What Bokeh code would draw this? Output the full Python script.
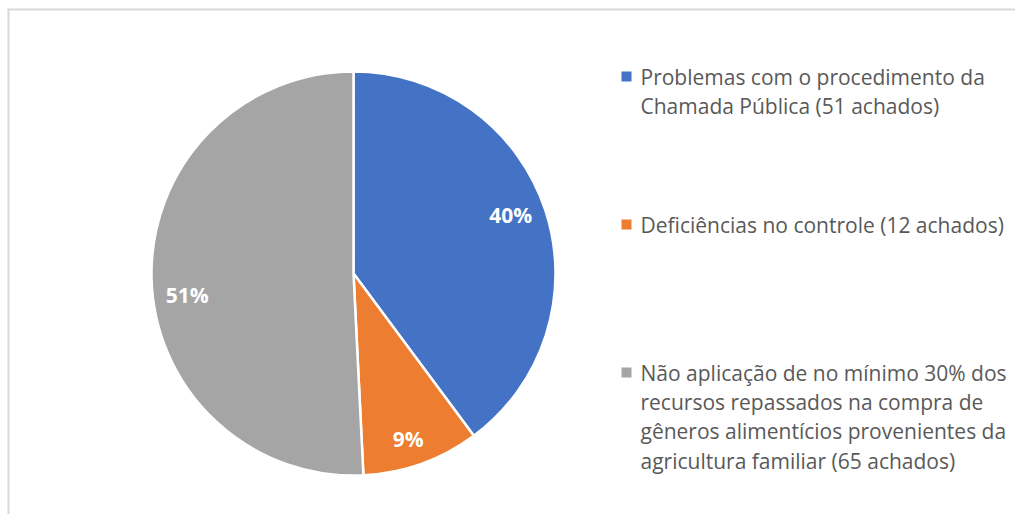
import math
from bokeh.plotting import figure
from bokeh.models import Range1d, ColumnDataSource
from bokeh.core.properties import value
from bokeh.embed import file_html
from bokeh.resources import INLINE

# ---- data ----
categories = [
    ["Problemas com o procedimento da", "Chamada Pública (51 achados)"],
    ["Deficiências no controle (12 achados)"],
    ["Não aplicação de no mínimo 30% dos", "recursos repassados na compra de",
     "gêneros alimentícios provenientes da", "agricultura familiar (65 achados)"],
]
counts = [51, 12, 65]
colors = ["#4472C4", "#ED7D31", "#A5A5A5"]

W, H = 1015, 514
p = figure(width=W, height=H, output_backend="svg", toolbar_location=None,
           x_range=Range1d(0, W), y_range=Range1d(0, H), min_border=0)
p.axis.visible = False
p.grid.visible = False
p.outline_line_color = None
p.background_fill_color = "white"
p.border_fill_color = "white"

# partial chart-area border (top and left visible)
p.line([8, 8], [0, 506], line_color="#d9d9d9", line_width=2)
p.line([7, W], [505, 505], line_color="#d9d9d9", line_width=2)

cx, cy, R = 353, 241, 202
# label placement (layout only): radius fraction and angular nudge in degrees
label_r = [0.83, 0.865, 0.83]
label_nudge = [2.0, -1.4, 5.8]
total = sum(counts)
starts, ends, lx, ly, labels = [], [], [], [], []
a = math.pi / 2
for c, rf, nd in zip(counts, label_r, label_nudge):
    sweep = 2 * math.pi * c / total
    starts.append(a)
    ends.append(a - sweep)
    mid = a - sweep / 2 + math.radians(nd)
    lx.append(cx + rf * R * math.cos(mid))
    ly.append(cy + rf * R * math.sin(mid))
    labels.append(f"{round(100 * c / total)}%")
    a -= sweep

src = ColumnDataSource(dict(s=starts, e=ends, color=colors))
p.wedge(x=cx, y=cy, radius=R, start_angle="s", end_angle="e", direction="clock",
        fill_color="color", line_color="white", line_width=2.5, source=src)

p.text(x=lx, y=ly, text=labels, text_color="white", text_font=value("Open Sans"),
       text_font_style="bold", text_font_size="21px", text_align="center",
       text_baseline="middle")

# legend
lh = 29.4
tops = [438, 290, 142]
for cat, col, y0 in zip(categories, colors, tops):
    p.scatter(x=[626], y=[y0], marker="square", size=10, fill_color=col, line_color=None)
    ys = [y0 - i * lh for i in range(len(cat))]
    p.text(x=[640] * len(cat), y=ys, text=cat, text_color="#595959",
           text_font=value("Open Sans"), text_font_size="21px",
           text_align="left", text_baseline="middle")

open("out.html", "w").write(file_html(p, INLINE))
